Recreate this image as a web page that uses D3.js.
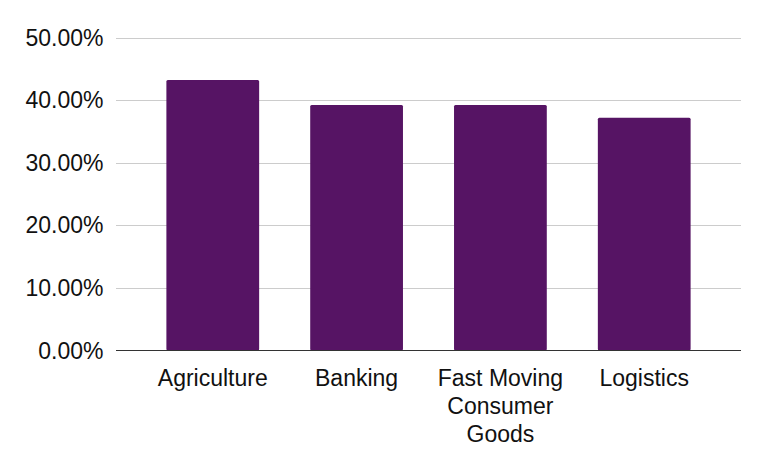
<!DOCTYPE html>
<html><head><meta charset="utf-8">
<script src="https://cdn.jsdelivr.net/npm/d3@7"></script>
<style>body{margin:0;background:#fff}</style>
</head><body>
<svg id="c" width="765" height="470"></svg>
<script>
const categories = ["Agriculture", "Banking", "Fast Moving Consumer Goods", "Logistics"];
const categoryLines = [["Agriculture"], ["Banking"], ["Fast Moving", "Consumer", "Goods"], ["Logistics"]];
const values = [0.432, 0.392, 0.392, 0.372];
const yTicks = [0, 0.1, 0.2, 0.3, 0.4, 0.5];

const svg = d3.select("#c");
const font = "'Liberation Sans', Arial, sans-serif";
const gridL = 116, gridR = 741;
const x = d3.scaleBand().domain(categories).range([140.5, 716.5]).paddingInner(0.355).paddingOuter(0.18);
const y = d3.scaleLinear().domain([0, 0.5]).range([350.5, 37.5]);

svg.append("g").selectAll("line").data(yTicks.filter(d => d > 0)).join("line")
  .attr("x1", gridL).attr("x2", gridR)
  .attr("y1", d => Math.round(y(d)) + 0.5).attr("y2", d => Math.round(y(d)) + 0.5)
  .attr("stroke", "#cccccc").attr("stroke-width", 1);

svg.append("g").selectAll("rect").data(values).join("rect")
  .attr("x", (d, i) => x(categories[i]))
  .attr("width", x.bandwidth())
  .attr("y", d => y(d))
  .attr("height", d => y(0) - y(d))
  .attr("rx", 1.5)
  .attr("fill", "#561464");

svg.append("line").attr("x1", gridL).attr("x2", gridR)
  .attr("y1", 350.5).attr("y2", 350.5).attr("stroke", "#333333").attr("stroke-width", 1);

svg.append("g").selectAll("text").data(yTicks).join("text")
  .attr("x", 103.5).attr("y", d => y(d)).attr("dy", "0.35em")
  .attr("text-anchor", "end")
  .attr("font-family", font).attr("font-size", 23).attr("fill", "#111")
  .text(d => d3.format(".2%")(d));

const lab = svg.append("g").selectAll("text").data(categories).join("text")
  .attr("x", d => x(d) + x.bandwidth() / 2).attr("y", 386)
  .attr("text-anchor", "middle")
  .attr("font-family", font).attr("font-size", 23).attr("fill", "#111");
lab.each(function(d, i) {
  d3.select(this).selectAll("tspan").data(categoryLines[i]).join("tspan")
    .attr("x", x(d) + x.bandwidth() / 2)
    .attr("dy", (t, j) => j === 0 ? 0 : 28)
    .text(t => t);
});
</script>
</body></html>
